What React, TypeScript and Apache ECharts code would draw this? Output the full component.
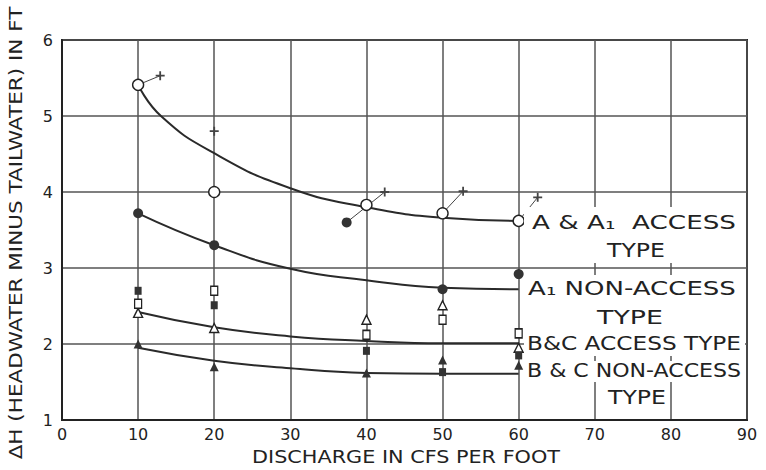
import React, { useEffect, useRef } from "react";
import * as echarts from "echarts";

// Fitted curves (discharge q, ΔH)
const accessCurve: number[][] = [[10, 5.41], [13, 5.0], [20, 4.51], [30, 4.05], [40, 3.8], [50, 3.66], [60, 3.62]];
const nonAccessACurve: number[][] = [[10, 3.72], [20, 3.3], [30, 2.99], [40, 2.84], [50, 2.74], [60, 2.72]];
const bcAccessCurve: number[][] = [[10, 2.42], [20, 2.22], [30, 2.1], [40, 2.04], [50, 2.01], [60, 2.01]];
const bcNonAccessCurve: number[][] = [[10, 1.95], [20, 1.78], [30, 1.68], [40, 1.62], [50, 1.61], [60, 1.61]];

// Observed points
const openCircles: number[][] = [[10, 5.41], [20, 4.0], [40, 3.83], [50, 3.72], [60, 3.62]];
const filledCircles: number[][] = [[10, 3.72], [20, 3.3], [37.4, 3.6], [50, 2.72], [60, 2.92]];
const plusPoints: number[][] = [[12.9, 5.53], [20, 4.8], [42.4, 4.0], [52.7, 4.01], [62.5, 3.93]];
const openTriangles: number[][] = [[10, 2.41], [20, 2.21], [40, 2.32], [50, 2.51], [60, 1.95]];
const openSquares: number[][] = [[10, 2.53], [20, 2.7], [40, 2.12], [50, 2.32], [60, 2.14]];
const filledSquares: number[][] = [[10, 2.7], [20, 2.51], [40, 1.91], [50, 1.63], [60, 1.85]];
const filledTriangles: number[][] = [[10, 2.0], [20, 1.7], [40, 1.62], [50, 1.79], [60, 1.72]];

// Short leaders joining a point to its "+" counterpart
const leaders: number[][][] = [
  [[10, 5.41], [12.9, 5.53]],
  [[37.4, 3.6], [42.4, 4.0]],
  [[50, 3.72], [52.7, 4.01]],
  [[60, 3.62], [62.5, 3.93]],
];

const xTitle = "DISCHARGE IN CFS PER FOOT";
const yTitle = "ΔH (HEADWATER MINUS TAILWATER) IN FT";

const FONT_FAMILY = "'DejaVu Sans', sans-serif";
const INK = "#222";
const MARK = "#333";
const PLUS = "path://M4,0H6V4H10V6H6V10H4V6H0V4H4Z";

function measure(text: string, font: string): number {
  const ctx = document.createElement("canvas").getContext("2d")!;
  ctx.font = font;
  return ctx.measureText(text).width;
}

// Text stretched horizontally to occupy a given width
function stretchedText(text: string, cx: number, cy: number, width: number, size: number, rotation = 0) {
  const font = `${size}px ${FONT_FAMILY}`;
  const s = width / measure(text, font);
  return {
    type: "text",
    x: cx,
    y: cy,
    rotation,
    scaleX: s,
    z: 110,
    silent: true,
    style: { text, font, fill: INK, align: "center", verticalAlign: "middle" },
  };
}

function whiteBox(x: number, y: number, w: number, h: number) {
  return { type: "rect", z: 100, silent: true, shape: { x, y, width: w, height: h }, style: { fill: "#fff" } };
}

export default function App() {
  const ref = useRef<HTMLDivElement>(null);

  useEffect(() => {
    if (!ref.current) return;
    const chart = echarts.init(ref.current, null, { renderer: "svg" });

    const curve = (data: number[][]) => ({
      type: "line",
      data,
      smooth: 0.5,
      symbol: "none",
      lineStyle: { color: "#2a2a2a", width: 2 },
      z: 3,
    });
    const scatter = (data: number[][], symbol: string, size: number | number[], fill: string, border: string) => ({
      type: "scatter",
      data,
      symbol,
      symbolSize: size,
      itemStyle: { color: fill, borderColor: border, borderWidth: fill === "#fff" ? 1.4 : 0, opacity: 1 },
      z: 5,
    });

    const series: any[] = [
      curve(accessCurve),
      curve(nonAccessACurve),
      curve(bcAccessCurve),
      curve(bcNonAccessCurve),
      ...leaders.map((seg) => ({
        type: "line",
        data: seg,
        symbol: "none",
        lineStyle: { color: "#444", width: 1 },
        z: 4,
      })),
      scatter(openCircles, "circle", 11, "#fff", INK),
      scatter(filledCircles, "circle", 10, MARK, MARK),
      scatter(plusPoints, PLUS, 9, "#444", "#444"),
      scatter(openTriangles, "triangle", 9, "#fff", INK),
      scatter(openSquares, "rect", [7, 9], "#fff", INK),
      scatter(filledSquares, "rect", [7, 8], MARK, MARK),
      scatter(filledTriangles, "triangle", 9, MARK, MARK),
    ];

    const labelSize = 19;
    const graphic: any[] = [
      whiteBox(524, 207, 221, 56),
      whiteBox(524, 275, 221, 81),
      whiteBox(524, 361, 221, 21),
      whiteBox(600, 384, 70, 23),
      stretchedText("A & A₁  ACCESS", 634, 222, 204, labelSize),
      stretchedText("TYPE", 636, 250, 58, labelSize),
      stretchedText("A₁ NON-ACCESS", 632, 288, 208, labelSize),
      stretchedText("TYPE", 630, 317, 66, labelSize),
      stretchedText("B&C ACCESS TYPE", 634, 343, 214, labelSize),
      stretchedText("B & C NON-ACCESS", 634, 371, 214, labelSize),
      stretchedText("TYPE", 637, 397, 58, labelSize),
      stretchedText(xTitle, 406, 457, 308, 17),
      stretchedText(yTitle, 16, 233, 453, 17, Math.PI / 2),
    ];

    chart.setOption({
      animation: false,
      backgroundColor: "#fff",
      grid: {
        left: 62,
        right: 19,
        top: 40,
        bottom: 50,
        show: true,
        borderColor: INK,
        borderWidth: 2,
        backgroundColor: "transparent",
      },
      xAxis: {
        type: "value",
        min: 0,
        max: 90,
        interval: 10,
        axisLine: { show: true, lineStyle: { color: INK, width: 2 } },
        axisTick: { show: false },
        axisLabel: { color: INK, fontSize: 16, fontFamily: FONT_FAMILY, margin: 6 },
        splitLine: { show: true, lineStyle: { color: "#555", width: 1.5 } },
      },
      yAxis: {
        type: "value",
        min: 1,
        max: 6,
        interval: 1,
        axisLine: { show: true, lineStyle: { color: INK, width: 2 } },
        axisTick: { show: false },
        axisLabel: { color: INK, fontSize: 16, fontFamily: FONT_FAMILY, margin: 9 },
        splitLine: { show: true, lineStyle: { color: "#555", width: 1.5 } },
      },
      series,
      graphic,
    });

    return () => chart.dispose();
  }, []);

  return <div ref={ref} style={{ width: 766, height: 470, position: "absolute", left: 0, top: 0 }} />;
}
